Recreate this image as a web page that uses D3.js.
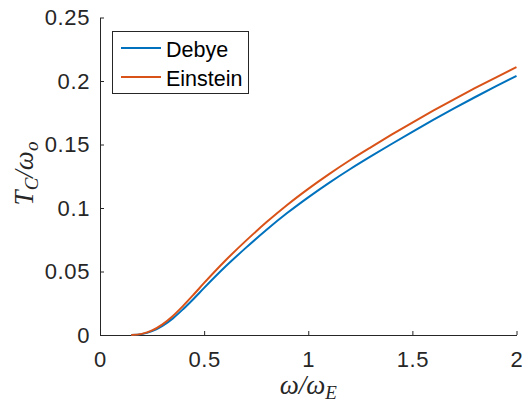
<!DOCTYPE html>
<html>
<head>
<meta charset="utf-8">
<script src="https://cdn.jsdelivr.net/npm/d3@7"></script>
<style>
  html, body { margin: 0; padding: 0; background: #fff; }
  svg { display: block; }
</style>
</head>
<body>
<svg id="chart" width="522" height="403"></svg>
<script>
// ---- data ----
const omegaRatio = [0.15, 0.2, 0.25, 0.3, 0.35, 0.4, 0.45, 0.5, 0.6, 0.7, 0.8, 0.9, 1.0, 1.1, 1.2, 1.3, 1.4, 1.5, 1.6, 1.7, 1.8, 1.9, 2.0];
const debyeTc    = [0.0000, 0.0007, 0.0030, 0.0072, 0.0131, 0.0205, 0.0286, 0.0371, 0.0535, 0.0686, 0.0829, 0.0962, 0.1084, 0.1198, 0.1305, 0.1406, 0.1504, 0.1600, 0.1693, 0.1784, 0.1872, 0.1957, 0.2040];
const einsteinTc = [0.0000, 0.0009, 0.0036, 0.0084, 0.0150, 0.0231, 0.0319, 0.0410, 0.0583, 0.0741, 0.0889, 0.1026, 0.1151, 0.1267, 0.1376, 0.1478, 0.1577, 0.1673, 0.1766, 0.1856, 0.1943, 0.2027, 0.2109];
const seriesNames = ["Debye", "Einstein"];
const xTickValues = [0, 0.5, 1, 1.5, 2];
const yTickValues = [0, 0.05, 0.1, 0.15, 0.2, 0.25];
const xTickLabels = ["0", "0.5", "1", "1.5", "2"];
const yTickLabels = ["0", "0.05", "0.1", "0.15", "0.2", "0.25"];

// ---- layout ----
const colors = ["#0072BD", "#D95319"];
const axisColor = "#262626";
const mLeft = 100, mRight = 516.5, mTop = 17.5, mBottom = 335;

const svg = d3.select("#chart");
const x = d3.scaleLinear().domain([0, 2]).range([mLeft, mRight]);
const y = d3.scaleLinear().domain([0, 0.25]).range([mBottom, mTop]);

const tickFont = "'Liberation Sans', Arial, Helvetica, sans-serif";

// x axis
const xAxis = d3.axisBottom(x).tickValues(xTickValues)
  .tickFormat((d, i) => xTickLabels[i]).tickSizeInner(-4).tickSizeOuter(0).tickPadding(16.5);
const gx = svg.append("g").attr("transform", `translate(0,${mBottom})`).call(xAxis);
gx.select(".domain").attr("stroke", axisColor).attr("stroke-width", 1);
gx.selectAll(".tick line").attr("stroke", axisColor);
gx.selectAll(".tick text").attr("fill", axisColor).style("font-family", tickFont)
  .style("font-size", "22px").style("letter-spacing", "0.6px");

// y axis
const yAxis = d3.axisLeft(y).tickValues(yTickValues)
  .tickFormat((d, i) => yTickLabels[i]).tickSizeInner(-4).tickSizeOuter(0).tickPadding(10);
const gy = svg.append("g").attr("transform", `translate(${mLeft},0)`).call(yAxis);
gy.select(".domain").attr("stroke", axisColor).attr("stroke-width", 1);
gy.selectAll(".tick line").attr("stroke", axisColor);
gy.selectAll(".tick text").attr("fill", axisColor).style("font-family", tickFont)
  .style("font-size", "22px").style("letter-spacing", "0.6px");

// lines
const seriesData = [debyeTc, einsteinTc];
const line = d3.line().x(d => x(d[0])).y(d => y(d[1])).curve(d3.curveMonotoneX);
seriesData.forEach((vals, i) => {
  svg.append("path")
    .datum(omegaRatio.map((w, j) => [w, vals[j]]))
    .attr("fill", "none")
    .attr("stroke", colors[i])
    .attr("stroke-width", 2)
    .attr("d", line);
});

// legend
const lg = svg.append("g");
lg.append("rect").attr("x", 112.5).attr("y", 31.5).attr("width", 136).attr("height", 62)
  .attr("fill", "#fff").attr("stroke", axisColor).attr("stroke-width", 1);
seriesNames.forEach((name, i) => {
  const yy = 48 + i * 29;
  lg.append("line").attr("x1", 121).attr("x2", 161).attr("y1", yy).attr("y2", yy)
    .attr("stroke", colors[i]).attr("stroke-width", 2);
  lg.append("text").attr("x", 166).attr("y", yy + 8.5).text(name)
    .attr("fill", "#000").style("font-family", tickFont).style("font-size", "21.5px");
});

// axis labels (math style)
const mathFont = "'Liberation Serif', 'DejaVu Serif', serif";
const xl = svg.append("text").attr("x", (mLeft + mRight) / 2).attr("y", 394)
  .attr("text-anchor", "middle").attr("fill", axisColor)
  .style("font-family", mathFont).style("font-style", "italic").style("font-size", "27px");
xl.append("tspan").text("ω/ω");
xl.append("tspan").text("E").attr("baseline-shift", "-25%").style("font-size", "19px");

const yl = svg.append("text").attr("transform", `translate(33,173.5) rotate(-90)`)
  .attr("text-anchor", "middle").attr("fill", axisColor)
  .style("font-family", mathFont).style("font-style", "italic").style("font-size", "27px");
yl.append("tspan").text("T");
yl.append("tspan").text("C").attr("baseline-shift", "-25%").style("font-size", "19px");
yl.append("tspan").text("/ω").attr("baseline-shift", "0%");
yl.append("tspan").text("o").attr("baseline-shift", "-25%").style("font-size", "19px");
</script>
</body>
</html>
